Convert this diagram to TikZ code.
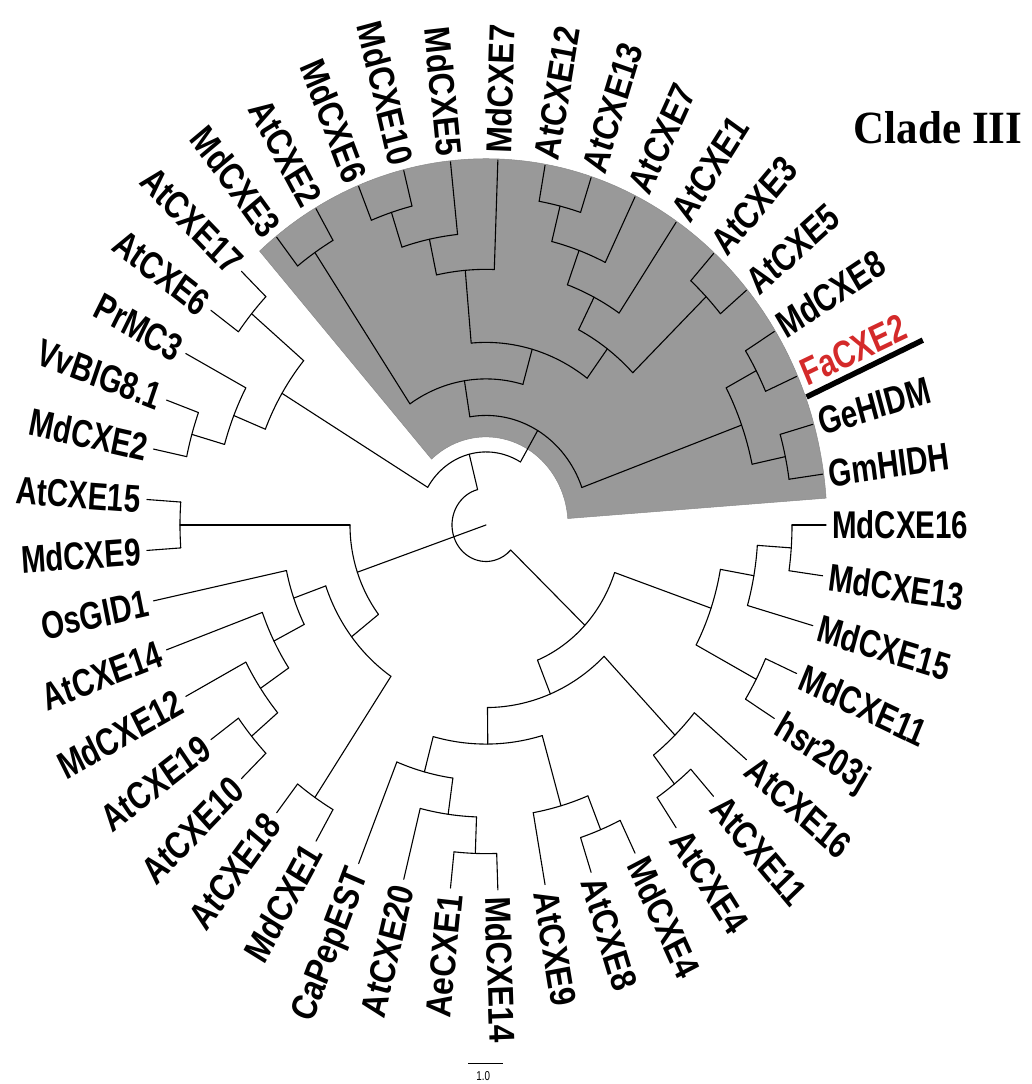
\documentclass[tikz,border=0pt]{standalone}
\usepackage{fontspec}
\setmainfont{Liberation Serif}
\newfontfamily\tipfont{Liberation Sans}[FakeStretch=0.82]
\definecolor{cladegray}{HTML}{999999}
\definecolor{cladeedge}{HTML}{8A8A8A}
\definecolor{facred}{HTML}{D42A2A}

% radial branch: angle, inner radius, outer radius
\newcommand{\brstem}[3]{\draw[brline] (#1:#2) -- (#1:#3);}
% node arc: radius, first child angle, last child angle
\newcommand{\brarc}[3]{\draw[brline] (#2:#1) arc[start angle=#2, end angle=#3, radius=#1];}
% leaves: [style] name, angle, parent radius, text
\newcommand{\tipR}[5][]{\brstem{#3}{#4}{340}%
  \node[tiplabel,anchor=west,rotate=#3,#1] (#2) at (#3:346) {#5};}
\newcommand{\tipL}[5][]{\brstem{#3}{#4}{340}%
  \node[tiplabel,anchor=east,rotate=#3-180,#1] (#2) at (#3:346) {#5};}

\begin{document}
\begin{tikzpicture}[x=1pt,y=1pt,yscale=1.074,
    brline/.style={line width=1.1pt,line cap=round},
    tiplabel/.style={font=\tipfont\bfseries\fontsize{36}{40}\selectfont,
      inner sep=0pt,text height=26pt,text depth=0pt,transform shape},
    cladetitle/.style={font=\bfseries\fontsize{43}{48}\selectfont,
      inner sep=0pt,transform shape}]
  \useasboundingbox (-486,-520.5) rectangle (545,488.8);

  % --- clade III shading ---
  \fill[cladegray,draw=cladeedge,line width=0.5pt]
    (4.2:82) -- (4.2:341) arc[start angle=4.2,end angle=131.6,radius=341]
    -- (131.6:82) arc[start angle=131.6,end angle=4.2,radius=82] -- cycle;

  % --- backbone ---
  \brstem{198.875}{0}{136}
  \brarc{34}{104.28}{316.625}
  \brstem{104.28}{34}{68}   \brarc{68}{149}{59.5625}
  \brstem{-43.375}{34}{136} \brarc{136}{-19}{-67.75}
  \brarc{136}{180}{217.75}

  % --- clade III ---
  \brstem{59.5625}{68}{102} \brarc{102}{99.125}{20}
  \brstem{99.125}{102}{136} \brarc{136}{124}{74.25}
  \brstem{124}{136}{306}    \brarc{306}{128}{120}
  \brstem{74.25}{136}{170}  \brarc{170}{95}{53.5}
  \brstem{95}{170}{238}     \brarc{238}{102}{88}
  \brstem{102}{238}{272}    \brarc{272}{108}{96}
  \brstem{108}{272}{306}    \brarc{306}{112}{104}
  \brstem{53.5}{170}{204}   \brarc{204}{63}{44}
  \brstem{63}{204}{238}     \brarc{238}{70}{56}
  \brstem{70}{238}{272}     \brarc{272}{76}{64}
  \brstem{76}{272}{306}     \brarc{306}{80}{72}
  \brstem{44}{204}{306}     \brarc{306}{48}{40}
  \brstem{20}{102}{272}     \brarc{272}{28}{12}
  \brstem{28}{272}{306}     \brarc{306}{32}{24}
  \brstem{12}{272}{306}     \brarc{306}{16}{8}

  % --- upper left clade ---
  \brstem{149}{68}{238}     \brarc{238}{158}{140}
  \brstem{158}{238}{272}    \brarc{272}{152}{164}
  \brstem{164}{272}{306}    \brarc{306}{160}{168}
  \brstem{140}{238}{306}    \brarc{306}{144}{136}

  % --- left clade ---
  \brstem{180}{136}{306}    \brarc{306}{176}{184}
  \brstem{217.75}{136}{170} \brarc{170}{199.5}{236}
  \brstem{199.5}{170}{204}  \brarc{204}{192}{207}
  \brstem{207}{204}{238}    \brarc{238}{200}{214}
  \brstem{214}{238}{272}    \brarc{272}{208}{220}
  \brstem{220}{272}{306}    \brarc{306}{216}{224}
  \brstem{236}{170}{306}    \brarc{306}{232}{240}

  % --- lower right clade ---
  \brstem{-19}{136}{238}    \brarc{238}{-10}{-28}
  \brstem{-10}{238}{272}    \brarc{272}{-4}{-16}
  \brstem{-4}{272}{306}     \brarc{306}{0}{-8}
  \brstem{-28}{238}{306}    \brarc{306}{-24}{-32}
  \brstem{-67.75}{136}{170} \brarc{170}{-46}{-89.5}
  \brstem{-46}{170}{272}    \brarc{272}{-40}{-52}
  \brstem{-52}{272}{306}    \brarc{306}{-48}{-56}
  \brstem{-89.5}{170}{204}  \brarc{204}{-74}{-105}
  \brstem{-74}{204}{272}    \brarc{272}{-68}{-80}
  \brstem{-68}{272}{306}    \brarc{306}{-64}{-72}
  \brstem{-105}{204}{238}   \brarc{238}{-98}{-112}
  \brstem{-98}{238}{272}    \brarc{272}{-92}{-104}
  \brstem{-92}{272}{306}    \brarc{306}{-88}{-96}

  % --- leaves, right half ---
  \tipR{MdCXE7}{88}{238}{MdCXE7}
  \tipR{AtCXE12}{80}{306}{AtCXE12}
  \tipR{AtCXE13}{72}{306}{AtCXE13}
  \tipR{AtCXE7}{64}{272}{AtCXE7}
  \tipR{AtCXE1}{56}{238}{AtCXE1}
  \tipR{AtCXE3}{48}{306}{AtCXE3}
  \tipR{AtCXE5}{40}{306}{AtCXE5}
  \tipR{MdCXE8}{32}{306}{MdCXE8}
  \tipR[text=facred]{FaCXE2}{24}{306}{FaCXE2}
  \tipR{GeHIDM}{16}{306}{GeHIDM}
  \tipR{GmHIDH}{8}{306}{GmHIDH}
  \tipR{MdCXE16}{0}{306}{MdCXE16}
  \tipR{MdCXE13}{-8}{306}{MdCXE13}
  \tipR{MdCXE15}{-16}{272}{MdCXE15}
  \tipR{MdCXE11}{-24}{306}{MdCXE11}
  \tipR{hsr203j}{-32}{306}{hsr203j}
  \tipR{AtCXE16}{-40}{272}{AtCXE16}
  \tipR{AtCXE11}{-48}{306}{AtCXE11}
  \tipR{AtCXE4}{-56}{306}{AtCXE4}
  \tipR{MdCXE4}{-64}{306}{MdCXE4}
  \tipR{AtCXE8}{-72}{306}{AtCXE8}
  \tipR{AtCXE9}{-80}{272}{AtCXE9}
  \tipR{MdCXE14}{-88}{306}{MdCXE14}

  % --- leaves, left half ---
  \tipL{MdCXE3}{128}{306}{MdCXE3}
  \tipL{AtCXE2}{120}{306}{AtCXE2}
  \tipL{MdCXE6}{112}{306}{MdCXE6}
  \tipL{MdCXE10}{104}{306}{MdCXE10}
  \tipL{MdCXE5}{96}{272}{MdCXE5}
  \tipL{AtCXE17}{136}{306}{AtCXE17}
  \tipL{AtCXE6}{144}{306}{AtCXE6}
  \tipL{PrMC3}{152}{272}{PrMC3}
  \tipL{VvBIG81}{160}{306}{VvBIG8.1}
  \tipL{MdCXE2}{168}{306}{MdCXE2}
  \tipL{AtCXE15}{176}{306}{AtCXE15}
  \tipL{MdCXE9}{184}{306}{MdCXE9}
  \tipL{OsGID1}{192}{204}{OsGID1}
  \tipL{AtCXE14}{200}{238}{AtCXE14}
  \tipL{MdCXE12}{208}{272}{MdCXE12}
  \tipL{AtCXE19}{216}{306}{AtCXE19}
  \tipL{AtCXE10}{224}{306}{AtCXE10}
  \tipL{AtCXE18}{232}{306}{AtCXE18}
  \tipL{MdCXE1}{240}{306}{MdCXE1}
  \tipL{CaPepEST}{248}{238}{CaPepEST}
  \tipL{AtCXE20}{256}{272}{AtCXE20}
  \tipL{AeCXE1}{264}{306}{AeCXE1}

  % --- marker bar and clade title ---
  \coordinate (barin) at (20.4:342);
  \coordinate (barout) at (21.5:469.5);
  \draw[line width=5.5pt] (barin) -- (barout);
  \node[cladetitle] (cladeIII) at (452,369.6) {Clade III};

  % --- scale bar ---
  \coordinate (sbl) at (-17.7,-501.2);
  \coordinate (sbr) at (17.3,-501.2);
  \draw[line width=0.8pt] (sbl) -- (sbr);
  \node[font=\tipfont\fontsize{12}{14}\selectfont,inner sep=0pt,transform shape]
    (sbtxt) at (-2.7,-513) {1.0};

\end{tikzpicture}
\end{document}
